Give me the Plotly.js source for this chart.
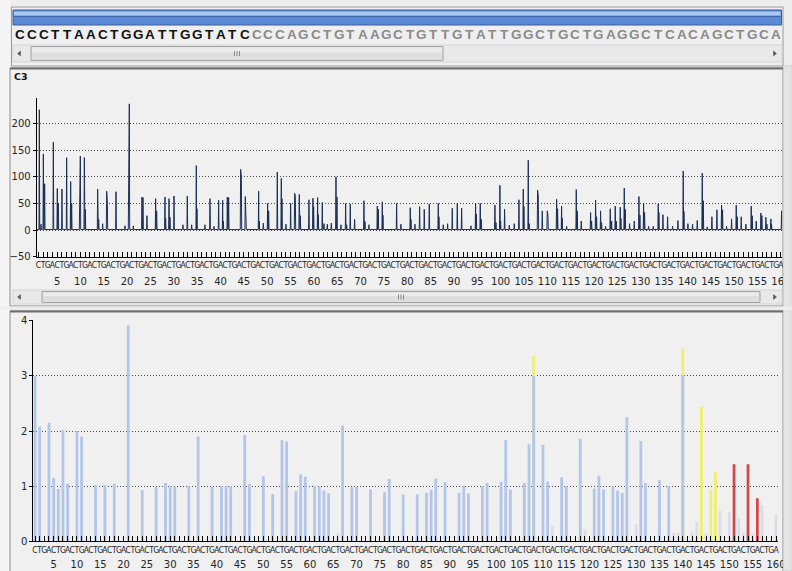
<!DOCTYPE html>
<html>
<head>
<meta charset="utf-8">
<script src="https://cdn.plot.ly/plotly-3.0.1.min.js"></script>
<style>
  html, body { margin: 0; padding: 0; background: #ececec; }
  #chart { width: 792px; height: 571px; }
</style>
</head>
<body>
<div id="chart"></div>
<script>
// ---- sequence shown above the traces ----
const readSequence = "CCCTTAACTGGATTGGTATC";
const restSequence = "CCCAGCTGTAAGCTGTTGTATTGGCTGCTGAGGCTCACAGCTGCA";

// ---- dispensation order and axis labels ----
const dispensationOrder = "CTGA";
const dispensationCount = 160;
const numberTicks = [5,10,15,20,25,30,35,40,45,50,55,60,65,70,75,80,85,90,95,100,105,110,115,120,125,130,135,140,145,150,155,160];
const rawTicks = [-50, 0, 50, 100, 150, 200];
const heightTicks = [0, 1, 2, 3, 4];

// ---- raw C3 signal: peak positions (dispensation units) and heights ----
const peakX = [1.20,1.56,2.06,2.34,4.20,5.05,5.27,6.05,7.05,7.91,8.12,9.84,9.98,10.84,11.05,13.69,13.91,14.76,15.62,15.76,
  17.62,19.54,20.33,20.47,21.33,23.18,23.40,24.25,26.11,26.32,28.11,28.25,28.97,29.18,30.04,31.96,32.89,33.82,34.82,34.96,
  36.67,37.75,38.60,39.60,40.46,40.60,41.46,41.74,44.31,44.46,45.31,45.45,48.17,48.31,49.17,50.09,50.31,52.16,53.02,53.16,
  54.02,55.02,55.88,56.02,56.87,57.09,58.94,59.80,59.94,60.80,60.94,61.80,62.16,62.87,63.73,64.73,64.94,65.80,66.80,67.01,
  67.79,68.72,70.72,70.94,71.79,73.58,73.79,74.65,74.79,77.72,78.64,80.64,80.79,81.64,82.64,83.64,84.71,86.64,86.78,87.71,
  88.64,89.64,90.71,91.64,93.63,94.63,94.78,95.63,95.85,98.77,98.99,99.84,99.99,100.84,101.84,102.91,103.91,104.84,104.98,105.91,
  106.12,107.91,108.05,108.91,109.98,110.12,111.98,112.19,113.05,113.19,114.12,116.19,116.40,117.26,119.26,119.47,120.33,120.54,121.40,121.61,
  122.47,123.47,123.76,124.54,124.76,125.61,125.75,126.47,126.68,127.61,128.61,129.61,129.82,130.61,130.82,131.68,132.68,133.75,133.89,134.75,
  135.75,136.82,137.96,139.10,139.25,140.10,141.10,142.10,143.17,143.39,144.24,145.24,146.31,147.31,147.52,148.38,149.45,150.45,150.66,151.52,
  152.52,153.66,153.87,154.73,155.73,155.94,156.80,157.02,157.87,158.01,160.16];
const peakY = [226,11,143,87,165,78,50,77,136,91,50,100,139,136,39,77,20,12,73,55,
  72,8,134,237,8,62,61,27,59,36,62,22,59,24,64,10,64,10,121,40,
  10,59,7,56,56,17,62,61,114,101,63,17,73,17,13,50,36,109,97,59,
  11,50,69,64,67,27,57,60,44,61,29,52,12,11,13,100,62,10,50,10,
  49,20,55,16,10,45,39,53,28,50,11,42,20,11,44,39,49,50,25,10,
  12,41,50,41,8,50,30,50,20,47,14,84,17,39,9,12,57,77,44,131,
  12,75,64,36,36,28,58,40,45,22,7,76,36,17,33,17,56,25,36,14,
  7,40,17,45,17,43,22,79,39,12,17,63,28,50,33,7,7,49,33,29,
  25,7,18,111,35,12,11,18,107,55,6,25,38,47,38,7,21,47,25,25,
  11,45,27,17,32,27,24,11,21,11,36];
const signalBaseline = 1;

// ---- peak heights per dispensation ----
const normalPos = [1,2,4,5,6,7,8,10,11,14,16,18,21,24,27,29,30,31,34,36,39,41,42,43,46,47,50,52,54,55,
  57,58,59,61,62,63,64,67,69,70,73,76,77,80,83,85,86,87,89,92,93,94,97,98,101,102,103,106,107,108,
  110,111,114,115,118,121,122,123,125,126,127,128,131,132,135,137,140];
const normalVal = [3.0,2.08,2.15,1.15,0.95,2.02,1.05,2.0,1.9,1.02,1.02,1.04,3.92,0.93,0.99,1.06,1.0,0.99,1.0,1.9,0.99,1.0,1.0,1.0,1.93,1.04,1.18,0.86,1.84,1.81,
  0.91,1.21,1.17,1.01,0.99,0.92,0.87,2.1,0.98,0.99,0.94,0.89,1.13,0.85,0.85,0.88,0.93,1.14,1.07,0.88,1.01,0.87,1.0,1.06,1.08,1.84,0.94,1.06,1.76,3.0,
  1.75,1.08,1.16,1.0,1.86,0.96,1.19,0.94,1.0,0.92,0.88,2.25,1.82,1.06,1.11,1.0,3.0];
const warnPos = [108,140,144,146,147];
const warnVal = [3.36,3.5,2.44,0.93,1.26];
const failPos = [151,154,156];
const failVal = [1.4,1.4,0.78];
const lowPos = [66,112,119,130,138,139,142,143,145,148,150,152,153,155,157,160];
const lowVal = [0.15,0.28,0.21,0.31,0.15,0.15,0.18,0.35,0.14,0.55,0.53,0.42,0.16,0.14,0.65,0.48];

// ---- page geometry helpers (pixel -> paper) ----
const W = 792, H = 571;
const px = x => x / W;
const py = y => 1 - y / H;

function rect(x0, y0, x1, y1, fill, line, lw, layer) {
  return {type: 'rect', xref: 'paper', yref: 'paper', x0: px(x0), x1: px(x1), y0: py(y1), y1: py(y0),
    fillcolor: fill, line: {color: line || fill, width: lw === undefined ? 1 : lw}, layer: layer || 'below'};
}
function seg(x0, y0, x1, y1, color, lw, layer) {
  return {type: 'line', xref: 'paper', yref: 'paper', x0: px(x0), x1: px(x1), y0: py(y0), y1: py(y1),
    line: {color: color, width: lw || 1}, layer: layer || 'below'};
}
function tri(points, color, layer) {
  const d = 'M' + points.map(p => px(p[0]) + ',' + py(p[1])).join('L') + 'Z';
  return {type: 'path', xref: 'paper', yref: 'paper', path: d, fillcolor: color, line: {color: color, width: 0.5}, layer: layer || 'below'};
}
function scrollbar(y0, y1, thumb0, thumb1) {
  const mid = (y0 + y1) / 2, g = (thumb0 + thumb1) / 2;
  return [
    rect(13, y0, 782, y1, '#e9e9e9', '#d4d4d4', 1),
    tri([[17.5, mid], [20.5, mid - 2.5], [20.5, mid + 2.5]], '#555555'),
    tri([[776.5, mid], [773.5, mid - 2.5], [773.5, mid + 2.5]], '#555555'),
    rect(thumb0, y0 + 1.5, thumb1, y1 - 1.5, '#dedede', '#a4a4a4', 1),
    rect(thumb0 + 1, y0 + 2.5, thumb1 - 1, mid - 1, '#ebebeb', '#ebebeb', 0),
    seg(g - 2.5, mid - 2.5, g - 2.5, mid + 2.5, '#8a8a8a', 1),
    seg(g, mid - 2.5, g, mid + 2.5, '#8a8a8a', 1),
    seg(g + 2.5, mid - 2.5, g + 2.5, mid + 2.5, '#8a8a8a', 1)
  ];
}

// ---- build the raw signal polyline from the peaks ----
const halfWidth = 0.08;
const sigX = [0.64], sigY = [signalBaseline];
for (let i = 0; i < peakX.length; i++) {
  sigX.push(peakX[i] - halfWidth, peakX[i], peakX[i] + halfWidth);
  sigY.push(signalBaseline, peakY[i], signalBaseline);
}
sigX.push(160.25); sigY.push(signalBaseline);

const positions = Array.from({length: dispensationCount}, (_, i) => i + 1);
const letters = positions.map(p => dispensationOrder[(p - 1) % 4]);

const barWidth = 0.6;
const traces = [
  {type: 'scatter', mode: 'lines', x: sigX, y: sigY, xaxis: 'x', yaxis: 'y',
   line: {color: '#1b2f55', width: 1}, hoverinfo: 'skip', showlegend: false},
  {type: 'bar', x: warnPos, y: warnVal, xaxis: 'x2', yaxis: 'y2', width: barWidth,
   marker: {color: '#eeee70', line: {width: 0}}, hoverinfo: 'skip', showlegend: false},
  {type: 'bar', x: normalPos, y: normalVal, xaxis: 'x2', yaxis: 'y2', width: barWidth,
   marker: {color: '#b3c6e9', line: {width: 0}}, hoverinfo: 'skip', showlegend: false},
  {type: 'bar', x: failPos, y: failVal, xaxis: 'x2', yaxis: 'y2', width: barWidth,
   marker: {color: '#d64848', line: {width: 0}}, hoverinfo: 'skip', showlegend: false},
  {type: 'bar', x: lowPos, y: lowVal, xaxis: 'x2', yaxis: 'y2', width: barWidth,
   marker: {color: '#dcdce8', line: {width: 0}}, hoverinfo: 'skip', showlegend: false},
  // empty traces so the dispensation-number axes get their own subplots
  {type: 'scatter', mode: 'none', x: [], y: [], xaxis: 'x3', yaxis: 'y', hoverinfo: 'skip', showlegend: false},
  {type: 'scatter', mode: 'none', x: [], y: [], xaxis: 'x4', yaxis: 'y2', hoverinfo: 'skip', showlegend: false}
];

const axisFont = {family: 'DejaVu Sans, Verdana, sans-serif', size: 10, color: '#262626'};
const letterFont = {family: 'DejaVu Sans Condensed, Liberation Sans Narrow, Liberation Sans, sans-serif', size: 8.5, color: '#1e1e1e'};
const gridDash = '1px,2px';

function letterAxis(domain, range, anchor) {
  return {domain: domain, range: range, anchor: anchor, tickmode: 'array', tickvals: positions, ticktext: letters,
    tickfont: letterFont, tickangle: 0, ticks: 'inside', ticklen: 5, tickcolor: '#000', tickwidth: 1,
    showline: true, linecolor: '#000', linewidth: 1, showgrid: false, zeroline: false, fixedrange: true};
}
function numberAxis(over, range, pos) {
  return {overlaying: over, anchor: 'free', position: pos, range: range, tickmode: 'array', tickvals: numberTicks,
    ticktext: numberTicks.map(String), tickfont: axisFont, tickangle: 0, ticks: '', showline: false,
    showgrid: false, zeroline: false, fixedrange: true, side: 'bottom'};
}

const upperRange = [0.636, 160.25];
const lowerRange = [0.635, 160.43];

const shapes = [].concat(
  [
    rect(0, 0, 792, 571, '#ededed', '#ededed', 0),
    rect(0, 0, 10, 571, '#f5f5f5', '#f5f5f5', 0),
    // sequence box
    rect(11.5, 7, 783, 66, '#efefef', '#9a9a9a', 1),
    rect(13, 10, 781.5, 25, '#5b8bd6', '#3d5f9a', 1),
    rect(14, 11.5, 780.5, 15.5, '#a9c8f2', '#a9c8f2', 0),
    seg(14, 16.5, 780.5, 16.5, '#3f64a8', 1)
  ],
  scrollbar(45, 62, 31, 443),
  [
    // upper panel
    rect(10, 68, 783, 306, '#f0f0f0', '#8c8c8c', 1),
    seg(10, 68.5, 783, 68.5, '#6e6e6e', 2)
  ],
  scrollbar(290, 304, 42, 760),
  [
    // lower panel
    rect(10, 311, 783, 575, '#f0f0f0', '#8c8c8c', 1),
    seg(10, 311.5, 783, 311.5, '#6e6e6e', 2),
    // right edge column, drawn over the axis labels
    rect(783.5, 66, 792, 571, '#e4e4e4', '#d0d0d0', 1, 'above'),
    rect(0, 306.5, 792, 310, '#ededed', '#ededed', 0, 'above')
  ]
);

const annotations = [];
const seqFull = readSequence + restSequence;
for (let i = 0; i < seqFull.length; i++) {
  annotations.push({xref: 'paper', yref: 'paper', x: px(20.3 + i * 11.81), y: py(34.8),
    xanchor: 'center', yanchor: 'middle', showarrow: false, text: seqFull[i],
    font: {family: 'Liberation Sans, Arial, sans-serif', size: 13.5, weight: 'bold',
      color: i < readSequence.length ? '#111111' : '#8a8a8a'}});
}
annotations.push({xref: 'paper', yref: 'paper', x: px(12), y: py(76.5), xanchor: 'left', yanchor: 'middle',
  showarrow: false, text: '<b>C3</b>', font: {family: 'DejaVu Sans, Verdana, sans-serif', size: 9.5, color: '#111'}});

const layout = {
  width: W, height: H, margin: {l: 0, r: 0, t: 0, b: 0}, autosize: false,
  paper_bgcolor: '#ededed', plot_bgcolor: 'rgba(0,0,0,0)', showlegend: false, barmode: 'overlay',
  xaxis: letterAxis([px(36.7), px(782)], upperRange, 'y'),
  yaxis: {domain: [py(256.7), py(98)], range: [-50, 248], tickmode: 'array', tickvals: rawTicks,
    tickfont: axisFont, ticks: 'outside', ticklen: 3, tickcolor: '#000', showline: true, linecolor: '#000',
    linewidth: 1, showgrid: true, gridcolor: '#4a4a4a', gridwidth: 1, griddash: gridDash, zeroline: false,
    fixedrange: true, anchor: 'x'},
  xaxis2: letterAxis([px(33.3), px(778)], lowerRange, 'y2'),
  yaxis2: {domain: [py(541.3), py(320.3)], range: [0, 4.01], tickmode: 'array', tickvals: heightTicks,
    tickfont: axisFont, ticks: 'outside', ticklen: 3, tickcolor: '#000', showline: true, linecolor: '#000',
    linewidth: 1, showgrid: true, gridcolor: '#4a4a4a', gridwidth: 1, griddash: gridDash, zeroline: false,
    fixedrange: true, anchor: 'x2'},
  xaxis3: numberAxis('x', upperRange, py(274)),
  xaxis4: numberAxis('x2', lowerRange, py(557)),
  shapes: shapes,
  annotations: annotations
};

Plotly.newPlot('chart', traces, layout, {staticPlot: true, displayModeBar: false});
</script>
</body>
</html>
